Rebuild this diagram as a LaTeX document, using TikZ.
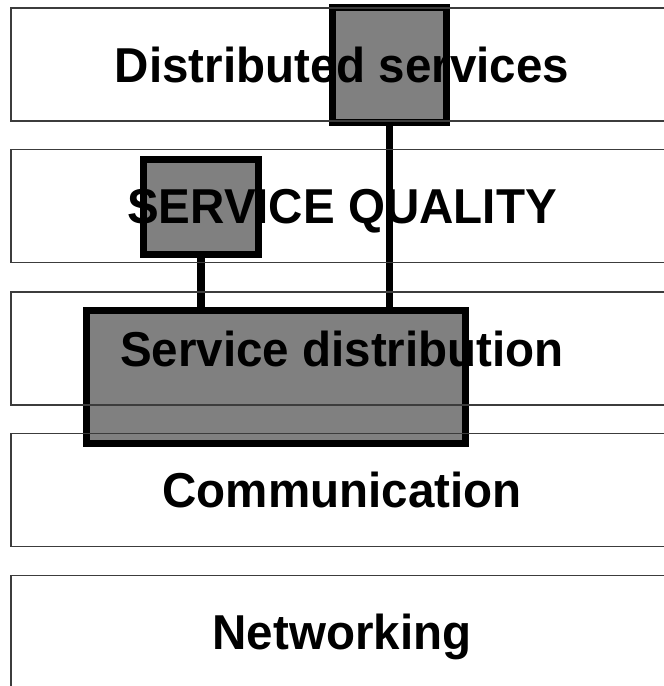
\documentclass[tikz,border=0pt]{standalone}
\usepackage{fontspec}
\setmainfont{Liberation Sans}[FakeStretch=0.97]
\definecolor{boxgray}{RGB}{128,128,128}
\definecolor{layerline}{RGB}{60,60,60}
\tikzset{
  layerbox/.style={draw=layerline, line width=1.3pt, rectangle, minimum width=662pt, minimum height=113pt,
    inner sep=0pt, text height=35pt, text depth=0pt,
    font=\fontsize{49}{52}\selectfont\bfseries},
  graybox/.style={draw=black, fill=boxgray, line width=7pt, rectangle, inner sep=0pt},
  conn/.style={draw=black, line width=7.5pt}
}
\begin{document}
\begin{tikzpicture}[x=1pt, y=-1pt]
  \useasboundingbox (0,0) rectangle (664,686);
  \clip (0,0) rectangle (664,686);
  % grey boxes
  \node[graybox, minimum width=114pt, minimum height=115pt] (topbox) at (389.5,65) {};
  \node[graybox, minimum width=115pt, minimum height=95pt] (smallbox) at (201,207) {};
  \node[graybox, minimum width=379pt, minimum height=133pt] (bigbox) at (276,377) {};
  % connectors
  \draw[conn] (topbox.south) -- (topbox.south |- bigbox.north);
  \draw[conn] (smallbox.south) -- (smallbox.south |- bigbox.north);
  % layers
  \node[layerbox] (l1) at (342,64.5) {Distributed services};
  \node[layerbox] (l2) at (342,206) {SERVICE QUALITY};
  \node[layerbox] (l3) at (342,348.5) {Service distribution};
  \node[layerbox] (l4) at (342,490) {Communication};
  \node[layerbox] (l5) at (342,632) {Networking};
\end{tikzpicture}
\end{document}
